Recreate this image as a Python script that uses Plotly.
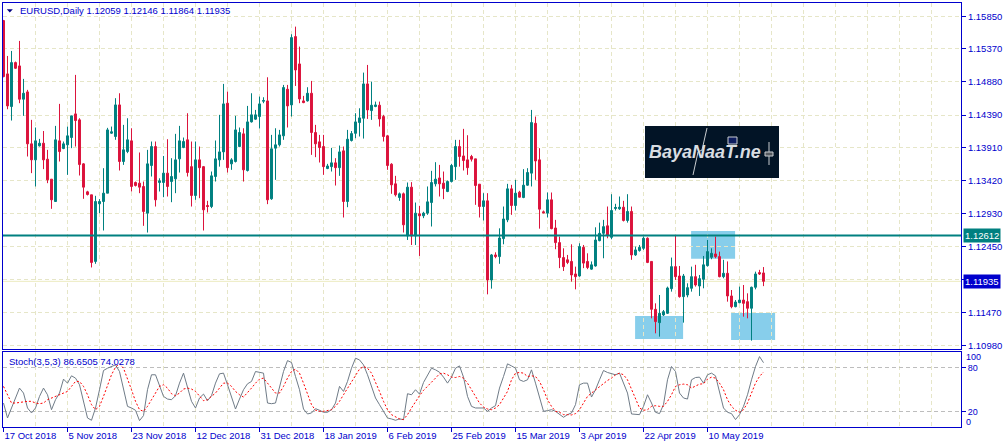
import plotly.graph_objects as go

# ---------------- data ----------------
opens = [1.15786, 1.14999, 1.14517, 1.15166, 1.15117, 1.14625, 1.14733, 1.13966, 1.13729, 1.13936,
         1.13975, 1.13739, 1.13444, 1.13114, 1.14010, 1.13897, 1.13951, 1.14059, 1.14408, 1.14320,
         1.13670, 1.13257, 1.13213, 1.12229, 1.13080, 1.13114, 1.13237, 1.14123, 1.14074, 1.14541,
         1.13705, 1.13852, 1.14010, 1.13395, 1.13385, 1.13336, 1.12942, 1.13646, 1.13926, 1.13395,
         1.13395, 1.13533, 1.13409, 1.13449, 1.13744, 1.13911, 1.14025, 1.13629, 1.13203, 1.13729,
         1.13629, 1.13055, 1.13040, 1.13483, 1.13729, 1.13847, 1.14566, 1.13670, 1.13705, 1.13926,
         1.14113, 1.13572, 1.14290, 1.14330, 1.14369, 1.14595, 1.14600, 1.13154, 1.13902, 1.13951,
         1.14084, 1.14772, 1.14541, 1.15550, 1.15146, 1.14600, 1.14600, 1.14713, 1.14133, 1.13995,
         1.13926, 1.13601, 1.13629, 1.13685, 1.13614, 1.13862, 1.13114, 1.14015, 1.14121, 1.14280,
         1.14344, 1.14851, 1.14457, 1.14517, 1.14536, 1.14369, 1.14084, 1.13665, 1.13375, 1.13173,
         1.13228, 1.12605, 1.13326, 1.12605, 1.12932, 1.12903, 1.12942, 1.13099, 1.13375, 1.13462,
         1.13385, 1.13262, 1.13409, 1.13629, 1.13926, 1.13787, 1.13729, 1.13779, 1.13744, 1.13370,
         1.13040, 1.13124, 1.11955, 1.12325, 1.12300, 1.12566, 1.12843, 1.13301, 1.13055, 1.13252,
         1.13173, 1.13355, 1.13533, 1.14269, 1.13729, 1.12962, 1.12942, 1.13139, 1.12723, 1.12507,
         1.12286, 1.12253, 1.12229, 1.12044, 1.12014, 1.12438, 1.12229, 1.12115, 1.12162, 1.12536,
         1.12644, 1.12755, 1.12585, 1.13011, 1.13006, 1.13030, 1.12834, 1.12967, 1.12325, 1.12389,
         1.12423, 1.12571, 1.12229, 1.11522, 1.11325, 1.11438, 1.11463, 1.11827, 1.12152, 1.12014,
         1.11709, 1.11733, 1.11832, 1.12004, 1.11866, 1.11965, 1.12167, 1.12290, 1.12339, 1.12300,
         1.12004, 1.12054, 1.11719, 1.11561, 1.11620, 1.11659, 1.11635, 1.11537, 1.11847, 1.12064,
         1.12059]
highs = [1.15796, 1.15264, 1.15338, 1.15181, 1.15486, 1.14925, 1.14763, 1.14320, 1.14207, 1.14039,
         1.14155, 1.13877, 1.13444, 1.14231, 1.14556, 1.14000, 1.14221, 1.14379, 1.14984, 1.14344,
         1.13680, 1.13272, 1.13213, 1.13198, 1.13149, 1.13606, 1.14202, 1.14221, 1.14640, 1.14713,
         1.14246, 1.14344, 1.14196, 1.13409, 1.13838, 1.13409, 1.13877, 1.14000, 1.14000, 1.13457,
         1.13787, 1.14034, 1.13754, 1.14113, 1.14231, 1.14059, 1.14418, 1.14000, 1.14000, 1.13926,
         1.13639, 1.13124, 1.13557, 1.14015, 1.14394, 1.14851, 1.14738, 1.13754, 1.14379, 1.14207,
         1.14196, 1.14526, 1.14713, 1.14467, 1.14664, 1.14654, 1.14949, 1.14098, 1.14196, 1.14172,
         1.14836, 1.14836, 1.15584, 1.15697, 1.15402, 1.14674, 1.14802, 1.14895, 1.14246, 1.14098,
         1.14098, 1.13670, 1.13906, 1.13754, 1.13941, 1.13926, 1.14172, 1.14155, 1.14418, 1.14491,
         1.15018, 1.15131, 1.14885, 1.14590, 1.14590, 1.14394, 1.14098, 1.13680, 1.13493, 1.13247,
         1.13247, 1.13395, 1.13400, 1.13099, 1.13050, 1.12962, 1.13336, 1.13567, 1.13695, 1.13655,
         1.13557, 1.13424, 1.13670, 1.14025, 1.14025, 1.14187, 1.14093, 1.13803, 1.13744, 1.13370,
         1.13237, 1.13237, 1.12339, 1.12364, 1.12718, 1.13040, 1.13375, 1.13360, 1.13434, 1.13272,
         1.13592, 1.13606, 1.14467, 1.14369, 1.13902, 1.12981, 1.13247, 1.13247, 1.12843, 1.12596,
         1.12423, 1.12325, 1.12482, 1.12152, 1.12497, 1.12472, 1.12349, 1.12229, 1.12733, 1.12802,
         1.12843, 1.13040, 1.13222, 1.13080, 1.13188, 1.13124, 1.13222, 1.13040, 1.12448, 1.12472,
         1.12596, 1.12585, 1.12229, 1.11610, 1.11733, 1.11512, 1.11857, 1.12286, 1.12620, 1.12162,
         1.12044, 1.11906, 1.12152, 1.12179, 1.12029, 1.12310, 1.12546, 1.12423, 1.12596, 1.12374,
         1.12253, 1.12229, 1.11807, 1.11659, 1.11857, 1.11881, 1.11758, 1.11857, 1.12078, 1.12105,
         1.12146]
lows = [1.14949, 1.14477, 1.14310, 1.15072, 1.14566, 1.14379, 1.13779, 1.13533, 1.13336, 1.13926,
        1.13592, 1.13385, 1.13006, 1.13114, 1.13705, 1.13887, 1.13508, 1.13902, 1.13926, 1.13498,
        1.13154, 1.13203, 1.12140, 1.12194, 1.12942, 1.12686, 1.13237, 1.14113, 1.14025, 1.13572,
        1.13655, 1.13828, 1.13262, 1.13336, 1.13237, 1.12755, 1.12656, 1.13483, 1.13040, 1.13262,
        1.13178, 1.13188, 1.13104, 1.13237, 1.13542, 1.13902, 1.13483, 1.13040, 1.13139, 1.13163,
        1.12686, 1.12952, 1.13016, 1.13409, 1.13629, 1.13729, 1.13542, 1.13582, 1.13690, 1.13917,
        1.13409, 1.13557, 1.14280, 1.14320, 1.14192, 1.14566, 1.13075, 1.13139, 1.13434, 1.13926,
        1.14025, 1.14207, 1.14369, 1.14821, 1.14566, 1.14566, 1.14590, 1.13803, 1.13769, 1.13690,
        1.13508, 1.13592, 1.13557, 1.13350, 1.13493, 1.12878, 1.13030, 1.14000, 1.14049, 1.14074,
        1.14044, 1.14334, 1.14320, 1.14507, 1.14221, 1.14000, 1.13582, 1.13228, 1.13188, 1.13124,
        1.12656, 1.12546, 1.12472, 1.12472, 1.12310, 1.12868, 1.12917, 1.12745, 1.13336, 1.13188,
        1.13149, 1.13252, 1.13395, 1.13434, 1.13629, 1.13572, 1.13508, 1.13705, 1.13065, 1.12878,
        1.12834, 1.11743, 1.11827, 1.12276, 1.12194, 1.12482, 1.12809, 1.12917, 1.12981, 1.13173,
        1.13163, 1.13346, 1.13336, 1.13434, 1.12713, 1.12942, 1.12878, 1.12704, 1.12409, 1.12130,
        1.12088, 1.12189, 1.11930, 1.11817, 1.12004, 1.12130, 1.12115, 1.12105, 1.12152, 1.12526,
        1.12276, 1.12571, 1.12556, 1.12981, 1.12991, 1.12819, 1.12802, 1.12253, 1.12310, 1.12374,
        1.12399, 1.12204, 1.11389, 1.11167, 1.11118, 1.11423, 1.11453, 1.11783, 1.11955, 1.11694,
        1.11325, 1.11699, 1.11783, 1.11857, 1.11719, 1.11832, 1.12152, 1.12261, 1.12276, 1.11994,
        1.11980, 1.11635, 1.11537, 1.11551, 1.11610, 1.11413, 1.11389, 1.11059, 1.11817, 1.12029,
        1.11864]
closes = [1.14959, 1.14526, 1.15166, 1.15082, 1.14625, 1.14713, 1.13966, 1.13729, 1.14010, 1.13975,
          1.13729, 1.13434, 1.13139, 1.14025, 1.13852, 1.13966, 1.14084, 1.14379, 1.14310, 1.13660,
          1.13326, 1.13218, 1.12214, 1.13114, 1.13114, 1.13237, 1.14172, 1.14143, 1.14541, 1.13705,
          1.13877, 1.14025, 1.13336, 1.13350, 1.13326, 1.12967, 1.13670, 1.13926, 1.13139, 1.13419,
          1.13533, 1.13336, 1.13483, 1.13729, 1.14010, 1.14000, 1.13542, 1.13203, 1.13729, 1.13614,
          1.12991, 1.13040, 1.13493, 1.13744, 1.13847, 1.14556, 1.13614, 1.13729, 1.14172, 1.14133,
          1.13582, 1.14290, 1.14394, 1.14394, 1.14556, 1.14605, 1.13139, 1.13892, 1.13951, 1.14098,
          1.14797, 1.14526, 1.15535, 1.15057, 1.14629, 1.14575, 1.14713, 1.14133, 1.13966, 1.13911,
          1.13629, 1.13639, 1.13685, 1.13614, 1.13847, 1.13114, 1.14034, 1.14117, 1.14290, 1.14349,
          1.14851, 1.14467, 1.14536, 1.14541, 1.14334, 1.14074, 1.13646, 1.13360, 1.13213, 1.13228,
          1.12770, 1.13326, 1.12605, 1.12942, 1.12903, 1.12942, 1.13109, 1.13395, 1.13444, 1.13375,
          1.13306, 1.13409, 1.13646, 1.13926, 1.13779, 1.13719, 1.13614, 1.13739, 1.13350, 1.13040,
          1.13124, 1.11955, 1.12325, 1.12300, 1.12575, 1.12856, 1.13301, 1.13055, 1.13237, 1.13178,
          1.13355, 1.13542, 1.14280, 1.13713, 1.13001, 1.12947, 1.13139, 1.12713, 1.12507, 1.12286,
          1.12152, 1.12214, 1.12029, 1.12004, 1.12448, 1.12204, 1.12140, 1.12179, 1.12546, 1.12644,
          1.12743, 1.12620, 1.12981, 1.13026, 1.13030, 1.12834, 1.12967, 1.12325, 1.12399, 1.12438,
          1.12571, 1.12214, 1.11522, 1.11340, 1.11463, 1.11487, 1.11837, 1.12152, 1.12004, 1.11709,
          1.12014, 1.11842, 1.12004, 1.11881, 1.11975, 1.12179, 1.12374, 1.12349, 1.12300, 1.12004,
          1.12054, 1.11719, 1.11561, 1.11630, 1.11659, 1.11610, 1.11537, 1.11847, 1.12044, 1.12044,
          1.11935]

stoch_main = [32.1, 11.9, 25.4, 38.9, 52.3, 45.6, 25.4, 18.7, 25.4, 41.1,
              52.3, 43.3, 23.1, 36.6, 45.6, 64.4, 59.0, 68.9, 65.8, 56.8,
              32.1, 11.9, 8.8, 25.4, 50.1, 76.1, 79.2, 81.5, 83.7, 74.7,
              50.1, 27.6, 25.4, 22.3, 8.3, 15.1, 50.1, 70.3, 70.3, 56.8,
              41.1, 37.5, 36.6, 42.0, 59.0, 72.5, 54.6, 34.4, 25.4, 38.9,
              44.2, 35.3, 42.0, 59.0, 71.6, 72.5, 56.8, 38.9, 24.0, 37.5,
              50.1, 58.1, 61.3, 74.7, 73.8, 72.5, 32.1, 31.2, 32.1, 54.6,
              74.7, 89.5, 86.9, 68.0, 50.1, 24.0, 17.3, 18.7, 24.5, 22.3,
              19.6, 19.6, 23.1, 32.1, 54.6, 47.8, 61.3, 79.2, 92.7, 90.4,
              83.7, 70.3, 54.6, 38.9, 29.9, 20.9, 11.9, 10.6, 8.8, 10.6,
              9.7, 44.7, 43.3, 50.1, 44.2, 59.9, 68.9, 79.2, 77.0, 73.8,
              67.1, 59.0, 67.1, 79.2, 82.3, 67.1, 41.1, 27.6, 25.4, 25.4,
              25.4, 20.9, 25.4, 28.5, 52.3, 68.0, 85.1, 82.3, 79.2, 63.5,
              61.3, 63.5, 77.0, 59.0, 41.1, 20.9, 21.8, 23.1, 20.9, 16.4,
              12.8, 16.4, 18.7, 29.9, 56.8, 59.0, 59.0, 40.2, 50.1, 63.5,
              76.1, 73.4, 71.6, 70.3, 72.5, 59.0, 45.6, 17.3, 17.3, 16.4,
              27.6, 43.3, 32.1, 19.6, 17.8, 29.9, 63.5, 81.5, 74.7, 45.6,
              38.9, 37.5, 63.5, 66.6, 67.1, 59.0, 70.3, 72.5, 68.9, 47.8,
              25.4, 19.6, 17.8, 9.7, 16.4, 27.6, 43.3, 63.5, 81.5, 94.9,
              86.65]
stoch_signal = [54.6, 43.3, 32.1, 32.1, 33.0, 34.4, 34.4, 34.4, 32.1, 31.2,
                32.1, 36.6, 38.9, 40.2, 43.3, 45.6, 47.8, 54.6, 61.3, 61.3,
                54.6, 43.3, 29.9, 23.1, 27.6, 41.1, 56.8, 70.3, 80.6, 85.1,
                79.2, 65.8, 50.1, 34.4, 23.1, 20.9, 27.6, 36.6, 45.6, 54.6,
                56.8, 52.3, 44.7, 42.0, 45.6, 51.0, 52.3, 51.0, 47.8, 41.1,
                35.3, 36.6, 41.1, 45.6, 52.3, 59.0, 59.0, 54.6, 47.8, 43.3,
                40.2, 45.6, 52.3, 59.0, 64.4, 65.8, 59.0, 52.3, 45.6, 45.6,
                54.6, 65.8, 74.7, 77.9, 72.5, 59.0, 43.3, 29.9, 22.3, 20.9,
                20.9, 21.8, 23.1, 27.6, 34.4, 43.3, 52.3, 61.3, 70.3, 77.9,
                81.5, 79.2, 72.5, 61.3, 47.8, 34.4, 23.1, 16.4, 13.3, 10.6,
                9.7, 16.4, 25.4, 34.4, 42.0, 49.2, 54.6, 59.0, 65.8, 71.6,
                72.5, 70.3, 67.1, 66.6, 68.0, 65.8, 59.0, 50.1, 40.2, 32.1,
                26.7, 24.0, 23.1, 25.4, 29.9, 38.9, 47.8, 63.5, 72.5, 73.4,
                72.5, 68.0, 68.9, 68.0, 61.3, 50.1, 36.6, 27.6, 20.9, 19.6,
                16.4, 16.4, 16.0, 17.8, 23.1, 32.1, 41.1, 45.6, 50.1, 54.6,
                59.0, 62.6, 65.8, 70.3, 72.5, 70.3, 63.5, 50.1, 36.6, 25.4,
                22.3, 23.1, 27.6, 28.5, 27.6, 27.6, 34.4, 43.3, 54.6, 56.8,
                57.7, 56.8, 52.3, 54.6, 57.7, 58.1, 64.4, 67.1, 65.8, 59.0,
                50.1, 36.6, 27.6, 22.3, 19.6, 23.1, 32.1, 45.6, 59.0, 68.0,
                74.03]

date_labels = ["17 Oct 2018", "5 Nov 2018", "23 Nov 2018", "12 Dec 2018", "31 Dec 2018",
               "18 Jan 2019", "6 Feb 2019", "25 Feb 2019", "15 Mar 2019", "3 Apr 2019",
               "22 Apr 2019", "10 May 2019"]
date_label_bars = [0, 16, 32, 48, 64, 80, 96, 112, 128, 144, 160, 176]

price_ticks = [1.15850, 1.15370, 1.14880, 1.14390, 1.13910, 1.13420, 1.12930,
               1.12450, 1.11960, 1.11470, 1.10980]
price_tick_text = ["1.15850", "1.15370", "1.14880", "1.14390", "1.13910", "1.13420",
                   "1.12930", "1.12450", "", "1.11470", "1.10980"]

level_price = 1.12612
bid_price = 1.11935
# highlighted zones: (first bar, last bar, low price, high price)
zones = [(157.9, 169.9, 1.11083, 1.11423),
         (171.9, 182.9, 1.12270, 1.12679),
         (181.9, 192.9, 1.11068, 1.11467)]

header_text = "EURUSD,Daily 1.12059 1.12146 1.11864 1.11935"
stoch_text = "Stoch(3,5,3) 86.6505 74.0278"

# ---------------- styling / layout ----------------
W, H = 1007, 448
PL, PR, PT, PB = 3, 961, 3, 427
BLUE = "#0000CD"
GRID = "#e6e6c8"
TEAL = "#008080"
CRIMSON = "#DC143C"
FONT = "Tahoma, 'Liberation Sans', Arial, sans-serif"
FS = 9.5


def fx(px):
    return (px - PL) / (PR - PL)


def fy(py):
    return (PB - py) / (PB - PT)


bars = list(range(len(opens)))
x_range = [(PL - 3.5) / 4.0, (PR - 3.5) / 4.0]
main_range = [1.10943, 1.16046]
stoch_range = [-0.3, 101.5]

fig = go.Figure()
fig.add_trace(go.Candlestick(
    x=bars, open=opens, high=highs, low=lows, close=closes,
    increasing=dict(line=dict(color=TEAL, width=1), fillcolor=TEAL),
    decreasing=dict(line=dict(color=CRIMSON, width=1), fillcolor=CRIMSON),
    whiskerwidth=0, hoverinfo="skip", xaxis="x", yaxis="y"))

fig.add_trace(go.Scatter(x=bars, y=stoch_main, mode="lines",
                         line=dict(color="#6f7b87", width=1),
                         xaxis="x2", yaxis="y2", hoverinfo="skip"))
fig.add_trace(go.Scatter(x=bars, y=stoch_signal, mode="lines",
                         line=dict(color="#ff0000", width=1, dash="2px,2px"),
                         xaxis="x2", yaxis="y2", hoverinfo="skip"))

grid_bars = list(range(0, 240, 8))
minor_bars = [b for b in grid_bars if b not in date_label_bars]

shapes = []
for x0, x1, y0, y1 in zones:
    shapes.append(dict(type="rect", xref="x", yref="y", x0=x0, x1=x1, y0=y0, y1=y1,
                       fillcolor="#87CEEB", line=dict(width=0), layer="below"))
shapes.append(dict(type="line", xref="paper", yref="y", x0=0, x1=1, y0=bid_price, y1=bid_price,
                   line=dict(color="#ecebc0", width=1), layer="below"))
shapes.append(dict(type="line", xref="paper", yref="y", x0=0, x1=1, y0=level_price, y1=level_price,
                   line=dict(color=TEAL, width=2), layer="above"))
# header triangle
shapes.append(dict(type="path", xref="paper", yref="paper",
                   path="M {},{} L {},{} L {},{} Z".format(fx(6.8), fy(9.3), fx(12.8), fy(9.3), fx(9.8), fy(12.6)),
                   fillcolor="#000080", line=dict(width=0), layer="above"))
# logo box
shapes.append(dict(type="rect", xref="paper", yref="paper", x0=fx(645), x1=fx(779), y0=fy(178), y1=fy(126),
                   fillcolor="#021426", line=dict(width=0), layer="above"))
shapes.append(dict(type="path", xref="paper", yref="paper",
                   path="M {},{} L {},{} L {},{} L {},{}".format(fx(707), fy(128), fx(702), fy(150),
                                                               fx(698), fy(152), fx(693), fy(175)),
                   line=dict(color="#c8ccd0", width=1), layer="above"))
shapes.append(dict(type="rect", xref="paper", yref="paper", x0=fx(728), x1=fx(737), y0=fy(144), y1=fy(137),
                   fillcolor="#0c1c5e", line=dict(color="#c8ccd0", width=1), layer="above"))
shapes.append(dict(type="line", xref="paper", yref="paper", x0=fx(769), x1=fx(769), y0=fy(165), y1=fy(142),
                   line=dict(color="#c8ccd0", width=1), layer="above"))
shapes.append(dict(type="rect", xref="paper", yref="paper", x0=fx(765), x1=fx(773), y0=fy(156), y1=fy(152),
                   fillcolor="#555a60", line=dict(color="#c8ccd0", width=1), layer="above"))

annotations = [
    dict(xref="paper", yref="paper", x=fx(17.5), y=fy(11), xanchor="left", yanchor="middle",
         text=header_text, showarrow=False, font=dict(family=FONT, size=FS, color=BLUE)),
    dict(xref="paper", yref="paper", x=fx(6.5), y=fy(361), xanchor="left", yanchor="middle",
         text=stoch_text, showarrow=False, font=dict(family=FONT, size=FS, color=BLUE)),
    dict(xref="paper", yref="y", x=fx(963), y=level_price, xanchor="left", yanchor="middle",
         text="1.12612", showarrow=False, bgcolor=TEAL, borderpad=1,
         font=dict(family=FONT, size=FS, color="white")),
    dict(xref="paper", yref="y", x=fx(963), y=bid_price, xanchor="left", yanchor="middle",
         text="1.11935", showarrow=False, bgcolor=BLUE, borderpad=1,
         font=dict(family=FONT, size=FS, color="white")),
    dict(xref="paper", yref="paper", x=fx(964), y=fy(356.8), xanchor="left", yanchor="middle",
         text="100", showarrow=False, font=dict(family=FONT, size=9, color=BLUE)),
    dict(xref="paper", yref="paper", x=fx(964), y=fy(421.8), xanchor="left", yanchor="middle",
         text="0", showarrow=False, font=dict(family=FONT, size=9, color=BLUE)),
    dict(xref="paper", yref="paper", x=fx(647), y=fy(152), xanchor="left", yanchor="middle",
         text="BayaNaaT.ne", showarrow=False,
         font=dict(family="'Liberation Sans', Arial, sans-serif", size=18, color="#d8dde2",
                   style="italic", weight="bold")),
]

axis_common = dict(showline=True, mirror=True, linecolor=BLUE, linewidth=1, zeroline=False,
                   tickfont=dict(family=FONT, size=FS, color=BLUE), tickcolor=BLUE)

fig.update_layout(
    width=W, height=H, autosize=False,
    margin=dict(l=PL, r=W - PR, t=PT, b=H - PB, pad=0),
    paper_bgcolor="white", plot_bgcolor="white",
    showlegend=False, hovermode=False,
    xaxis=dict(domain=[0, 1], range=x_range, anchor="y", tickmode="array", tickvals=grid_bars,
               showticklabels=False, ticks="", showgrid=True, gridcolor=GRID, griddash="4px,3px",
               gridwidth=1, rangeslider=dict(visible=False), **axis_common),
    yaxis=dict(domain=[fy(348.5), 1], range=main_range, anchor="x", side="right",
               tickmode="array", tickvals=price_ticks, ticktext=price_tick_text,
               ticks="outside", ticklen=4, showgrid=True, gridcolor=GRID, griddash="4px,3px",
               **axis_common),
    xaxis2=dict(domain=[0, 1], range=x_range, anchor="y2", tickmode="array",
                tickvals=date_label_bars, ticktext=date_labels, ticks="outside", ticklen=4,
                ticklabelposition="outside right",
                showgrid=True, gridcolor=GRID, griddash="4px,3px",
                minor=dict(tickmode="array", tickvals=minor_bars, showgrid=True, gridcolor=GRID,
                           griddash="4px,3px", ticks=""),
                **axis_common),
    yaxis2=dict(domain=[0, fy(351.7)], range=stoch_range, anchor="x2", side="right",
                tickmode="array", tickvals=[20, 80], ticktext=["20", "80"], ticks="outside", ticklen=4,
                showgrid=True, gridcolor="#bdbdbd", griddash="4px,3px",
                tickfont=dict(family=FONT, size=9, color=BLUE),
                showline=True, mirror=True, linecolor=BLUE, linewidth=1, zeroline=False, tickcolor=BLUE),
    shapes=shapes,
    annotations=annotations,
)

fig.write_html("out.html", config={"displayModeBar": False},
               post_script="document.body.style.margin='0px';document.body.style.overflow='hidden';")
